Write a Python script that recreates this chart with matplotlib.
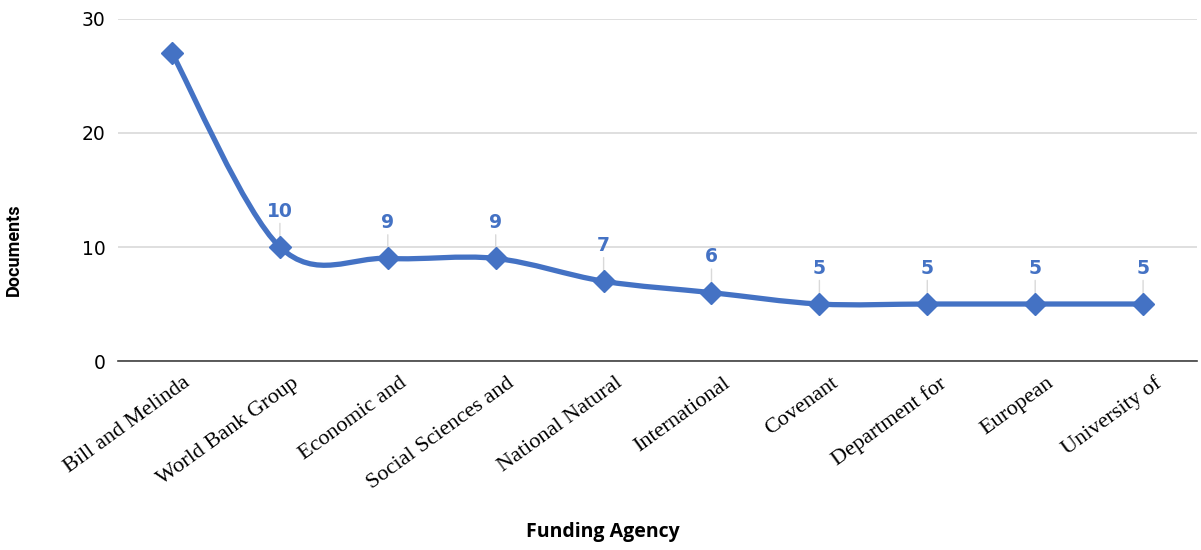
import matplotlib.pyplot as plt
from matplotlib.path import Path
from matplotlib.patches import PathPatch

# Chart data
agencies = ['Bill and Melinda', 'World Bank Group', 'Economic and',
            'Social Sciences and', 'National Natural', 'International',
            'Covenant', 'Department for', 'European', 'University of']
documents = [27, 10, 9, 9, 7, 6, 5, 5, 5, 5]

blue = '#4472C4'
grid_grey = '#d9d9d9'

fig = plt.figure(figsize=(12.01, 5.5), dpi=100)
ax = fig.add_axes([0.0983, 0.3436, 0.8984, 0.6219])

# Smoothed line (Catmull-Rom style cubic Bezier through the points)
xs = list(range(len(documents)))
pts = list(zip(xs, documents))
verts = [pts[0]]
codes = [Path.MOVETO]
n = len(pts)
for i in range(n - 1):
    p0 = pts[max(i - 1, 0)]
    p1 = pts[i]
    p2 = pts[i + 1]
    p3 = pts[min(i + 2, n - 1)]
    c1 = (p1[0] + (p2[0] - p0[0]) / 6, p1[1] + (p2[1] - p0[1]) / 6)
    c2 = (p2[0] - (p3[0] - p1[0]) / 6, p2[1] - (p3[1] - p1[1]) / 6)
    verts += [c1, c2, p2]
    codes += [Path.CURVE4, Path.CURVE4, Path.CURVE4]
ax.add_patch(PathPatch(Path(verts, codes), facecolor='none', edgecolor=blue,
                       lw=3.8, capstyle='round', joinstyle='round', zorder=3))

ax.plot(xs, documents, linestyle='none', marker='D', markersize=11,
        color=blue, zorder=4)

# Data labels with leader lines (first point is unlabeled)
for x, v in zip(xs[1:], documents[1:]):
    ax.annotate('', xy=(x, v), xytext=(0, 17), textcoords='offset points',
                arrowprops=dict(arrowstyle='-', color=grid_grey, lw=1,
                                shrinkA=0, shrinkB=0), zorder=2)
    ax.annotate(str(v), xy=(x, v), xytext=(0, 19), textcoords='offset points',
                ha='center', va='bottom', fontsize=13.5, fontweight='bold',
                color=blue, zorder=5)

ax.set_xlim(-0.5, len(agencies) - 0.5)
ax.set_ylim(0, 30)
ax.set_yticks([0, 10, 20, 30])
ax.set_xticks(xs)
ax.set_xticklabels([])

# Category labels, slanted and nudged right of each tick
for x, name in zip(xs, agencies):
    ax.annotate(name, xy=(x, 0), xycoords=('data', 'axes fraction'),
                xytext=(8, -9), textcoords='offset points',
                rotation=36, rotation_mode='anchor', ha='right', va='top',
                fontsize=16, family='Liberation Serif')

ax.tick_params(axis='both', length=0)
ax.tick_params(axis='y', pad=9, labelsize=13.5)

ax.grid(axis='y', color=grid_grey, lw=1.2)
ax.set_axisbelow(True)
for side in ['left', 'right', 'top']:
    ax.spines[side].set_visible(False)
ax.spines['bottom'].set_color('#404040')
ax.spines['bottom'].set_linewidth(1.2)

ax.set_ylabel('Documents', fontsize=13, fontweight='bold', family='Roboto')
ax.yaxis.set_label_coords(-0.088, 0.325)
ax.set_xlabel('Funding Agency', fontsize=14, fontweight='bold',
              family='Open Sans')
ax.xaxis.set_label_coords(0.4495, -0.47)

fig.savefig('out.png', dpi=100)
